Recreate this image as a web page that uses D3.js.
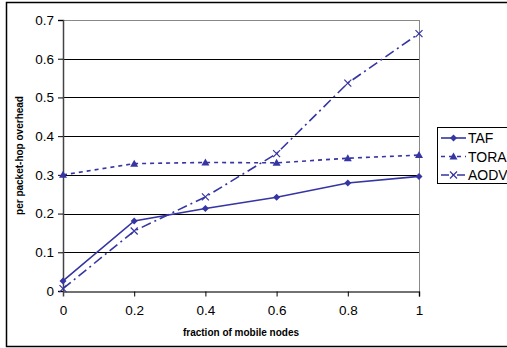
<!DOCTYPE html>
<html>
<head>
<meta charset="utf-8">
<script src="https://cdn.jsdelivr.net/npm/d3@7"></script>
<style>
  html, body { margin: 0; padding: 0; background: #fff; }
  #app { width: 507px; height: 348px; }
  text { font-family: "Liberation Sans", Arial, sans-serif; }
</style>
</head>
<body>
<div id="app"></div>
<script>
// fraction of mobile nodes
const fractions = [0, 0.2, 0.4, 0.6, 0.8, 1];
const tafValues  = [0.026, 0.181, 0.213, 0.242, 0.279, 0.296];
const toraValues = [0.300, 0.329, 0.332, 0.331, 0.343, 0.351];
const aodvValues = [0.006, 0.155, 0.243, 0.355, 0.537, 0.665];
const seriesNames = ["TAF", "TORA", "AODV"];
const xTicks = [0, 0.2, 0.4, 0.6, 0.8, 1];
const yTicks = [0, 0.1, 0.2, 0.3, 0.4, 0.5, 0.6, 0.7];

function drawPlot(targetDiv) {
  const width = 507, height = 348;
  const margin = {top: 20, right: 88, bottom: 57, left: 63};
  const color = "#3535a3";

  const svg = d3.select(targetDiv).append("svg")
    .attr("width", width)
    .attr("height", height);

  // outer chart border
  svg.append("rect")
    .attr("x", 6.5).attr("y", 2.5)
    .attr("width", 510).attr("height", 344)
    .attr("fill", "none").attr("stroke", "#000").attr("stroke-width", 1.5);

  const x = d3.scaleLinear().domain([0, 1]).range([margin.left, width - margin.right]);
  const y = d3.scaleLinear().domain([0, 0.7]).range([height - margin.bottom, margin.top]);

  // gridlines
  svg.append("g").selectAll("line")
    .data(yTicks.filter(d => d > 0))
    .join("line")
    .attr("x1", x(0)).attr("x2", x(1))
    .attr("y1", d => Math.round(y(d)) + 0.5).attr("y2", d => Math.round(y(d)) + 0.5)
    .attr("stroke", d => d === 0.7 ? "#888" : "#000");

  // plot area right border
  svg.append("line")
    .attr("x1", x(1) + 0.5).attr("x2", x(1) + 0.5)
    .attr("y1", y(0.7)).attr("y2", y(0))
    .attr("stroke", "#888");

  // axes
  const yAxis = svg.append("g")
    .attr("transform", `translate(${x(0)},0)`)
    .call(d3.axisLeft(y).tickValues(yTicks).tickFormat(d => d === 0 ? "0" : d3.format(".1f")(d)).tickSize(5).tickPadding(4));
  const xAxis = svg.append("g")
    .attr("transform", `translate(0,${Math.round(y(0)) + 0.5})`)
    .call(d3.axisBottom(x).tickValues(xTicks).tickFormat(d => d === 0 || d === 1 ? String(d) : d3.format(".1f")(d)).tickSize(5).tickPadding(9));
  [yAxis, xAxis].forEach(a => {
    a.select(".domain").attr("stroke", "#444").attr("stroke-width", 1.5);
    a.selectAll(".tick line").attr("stroke", "#000");
    a.selectAll(".tick text").attr("font-size", 13.5).attr("fill", "#000")
      .attr("font-family", "Liberation Sans, Arial, sans-serif");
  });
  xAxis.selectAll(".tick").filter(d => d === 0).select("line").remove();

  // axis titles
  svg.append("text")
    .attr("x", (x(0) + x(1)) / 2).attr("y", 336)
    .attr("text-anchor", "middle")
    .attr("font-size", 10).attr("font-weight", "bold")
    .text("fraction of mobile nodes");
  svg.append("text")
    .attr("transform", `translate(23,${(y(0) + y(0.7)) / 2}) rotate(-90)`)
    .attr("text-anchor", "middle")
    .attr("font-size", 10).attr("font-weight", "bold")
    .text("per packet-hop overhead");

  const series = [
    {name: seriesNames[0], values: tafValues, dash: null, marker: "diamond"},
    {name: seriesNames[1], values: toraValues, dash: "4,4", marker: "triangle"},
    {name: seriesNames[2], values: aodvValues, dash: "10,4,2,4", marker: "cross"}
  ];

  const line = d3.line().x(d => x(d[0])).y(d => y(d[1]));

  function drawMarker(g, type) {
    if (type === "diamond") {
      g.append("path").attr("d", "M0,-3.5L3.5,0L0,3.5L-3.5,0Z").attr("fill", color);
    } else if (type === "triangle") {
      g.append("path").attr("d", "M0,-4L4,3L-4,3Z").attr("fill", color);
    } else {
      g.append("path").attr("d", "M-3.5,-3.5L3.5,3.5M-3.5,3.5L3.5,-3.5")
        .attr("stroke", color).attr("stroke-width", 1.2).attr("fill", "none");
    }
  }

  series.forEach(s => {
    const pts = fractions.map((f, i) => [f, s.values[i]]);
    svg.append("path")
      .attr("d", line(pts))
      .attr("fill", "none")
      .attr("stroke", color)
      .attr("stroke-width", 1.6)
      .attr("stroke-dasharray", s.dash);
    pts.forEach(p => {
      const g = svg.append("g").attr("transform", `translate(${x(p[0])},${y(p[1])})`);
      drawMarker(g, s.marker);
    });
  });

  // legend
  const legend = svg.append("g").attr("transform", "translate(437,127)");
  legend.append("rect")
    .attr("x", 0.5).attr("y", 0.5).attr("width", 80).attr("height", 56)
    .attr("fill", "#fff").attr("stroke", "#000");
  series.forEach((s, i) => {
    const cy = 11 + i * 18.5;
    legend.append("line")
      .attr("x1", 4).attr("x2", 29).attr("y1", cy).attr("y2", cy)
      .attr("stroke", color).attr("stroke-width", 1.6)
      .attr("stroke-dasharray", s.dash ? (i === 1 ? "4,4" : "8,3,2,3") : null);
    drawMarker(legend.append("g").attr("transform", `translate(16.5,${cy})`), s.marker);
    legend.append("text")
      .attr("x", 31).attr("y", cy + 5)
      .attr("font-size", 14)
      .text(s.name);
  });
}

function main() {
  drawPlot("#app");
}

document.addEventListener("DOMContentLoaded", main);
</script>
</body>
</html>
